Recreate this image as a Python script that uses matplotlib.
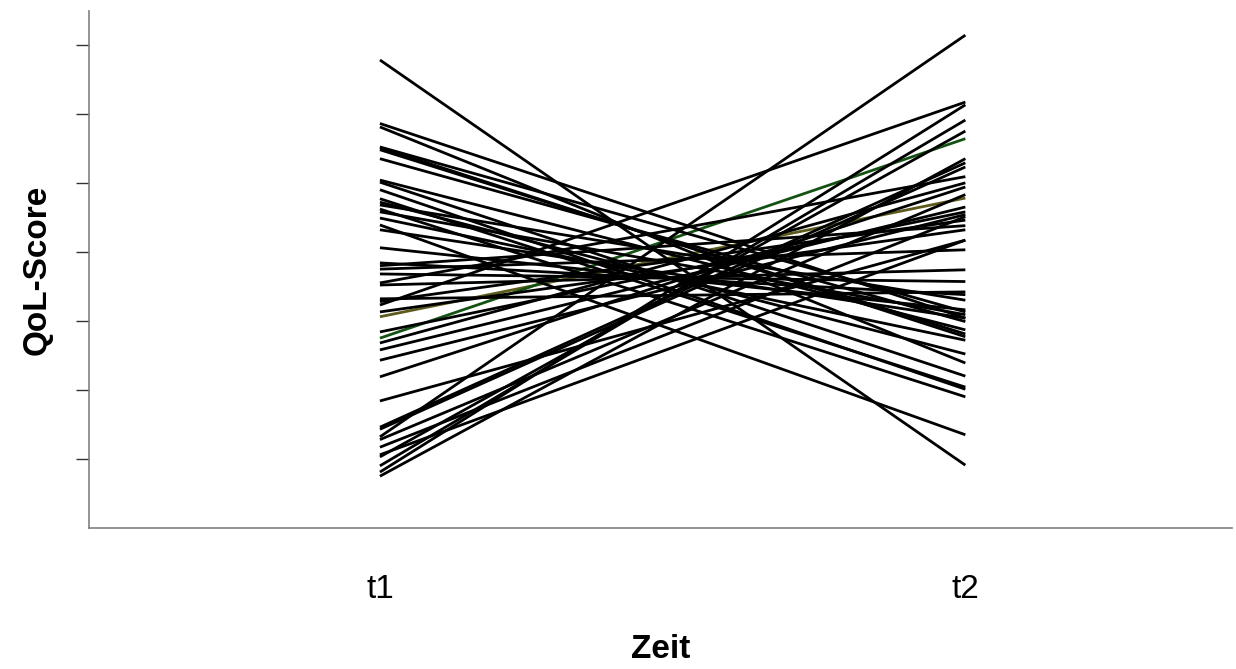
import matplotlib
matplotlib.use("Agg")
import matplotlib.pyplot as plt

plt.rcParams['font.family'] = ['Liberation Sans', 'DejaVu Sans']

# Data (QoL-Score at t1 and t2, one pair per subject)
time_labels = ["t1", "t2"]
t1_scores = [6.78, 5.86, 5.81, 5.52, 5.51, 5.48, 5.35, 5.01, 4.90, 4.77,
             4.72, 4.62, 4.58, 4.49, 4.39, 4.06, 3.84, 3.80, 3.75, 3.68,
             3.55, 3.32, 3.28, 3.23, 3.06, 2.84, 2.75, 2.68, 2.58, 2.19,
             1.84, 1.46, 1.43, 1.32, 1.17, 1.03, 0.90, 0.81, 0.75,
             4.68, 4.32, 3.52, 3.13, 2.43, 1.28, 1.06, 5.04]
t2_scores = [0.91, 3.04, 2.39, 3.13, 2.77, 2.81, 2.99, 2.20, 2.01, 2.04,
             2.52, 1.90, 3.09, 2.72, 1.35, 3.16, 3.38, 4.38, 4.03, 3.57,
             5.09, 3.42, 4.46, 6.17, 4.78, 4.58, 5.64, 5.00, 4.65, 4.94,
             4.17, 5.29, 5.23, 7.14, 4.51, 5.75, 5.91, 6.13, 5.35,
             3.30, 3.04, 3.74, 4.32, 4.54, 4.83, 4.17, 2.87]
# special colours for two subjects
special_colors = {24: "#5c5a1c", 26: "#145214"}
y_ticks = [1, 2, 3, 4, 5, 6, 7]

fig = plt.figure(figsize=(12.36, 6.69), dpi=100)
ax = fig.add_axes([0.072, 0.2108, 0.925, 0.7728])

xs = [1, 2]
for i, (a, b) in enumerate(zip(t1_scores, t2_scores)):
    c = special_colors.get(i, "black")
    ax.plot(xs, [a, b], color=c, lw=2.0, solid_capstyle='butt',
            zorder=3 if i not in special_colors else 2)

ax.set_xlim(0.503, 2.456)
ax.set_ylim(0, 7.49)

ax.set_xticks(xs)
ax.set_xticklabels(time_labels, fontsize=24)
ax.tick_params(axis='x', length=0, pad=33)
ax.set_yticks(y_ticks)
ax.set_yticklabels([])
ax.tick_params(axis='y', length=9.5, width=1.0, color="#333333")

for s in ['top', 'right']:
    ax.spines[s].set_visible(False)
for s in ['left', 'bottom']:
    ax.spines[s].set_color("#808080")
    ax.spines[s].set_linewidth(1.2)

ax.set_xlabel("Zeit", fontsize=24, fontweight='bold', labelpad=21)
ax.set_ylabel("QoL-Score", fontsize=24, fontweight='bold')
ax.yaxis.set_label_coords(-0.032, 0.5)

fig.savefig("out.png", dpi=100)
